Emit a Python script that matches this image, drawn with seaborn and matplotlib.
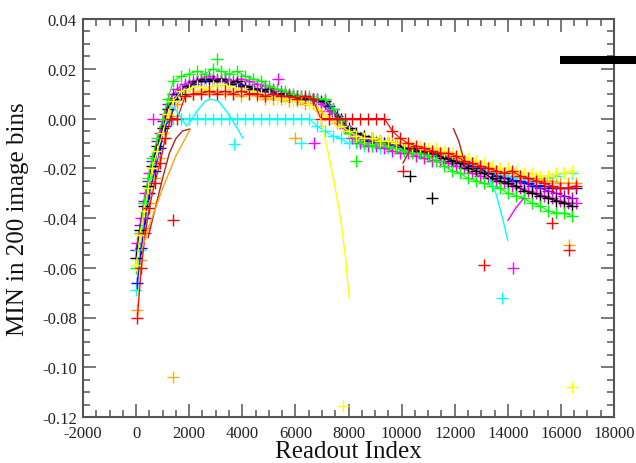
import numpy as np
import pandas as pd
import matplotlib
matplotlib.use("Agg")
import matplotlib.pyplot as plt
from matplotlib.lines import Line2D
from matplotlib.ticker import MultipleLocator
import seaborn as sns

# ---------------- data ----------------
x_a = [0, 150, 300, 450, 600, 800, 1000, 1200, 1400, 1700,
       2000, 2300, 2600, 2900, 3200, 3500, 3800, 4100, 4400, 4700,
       5000, 5300, 5600, 5900, 6200, 6500, 6800, 7100, 7400, 7700,
       8000, 8300, 8600, 8900, 9200, 9500, 9800, 10100, 10400, 10700,
       11000, 11300, 11600, 11900, 12200, 12500, 12800, 13100, 13400, 13700,
       14000, 14300, 14600, 14900, 15200, 15500, 15800, 16100, 16400]
x_b = [50, 200, 350, 500, 700, 900, 1100, 1300, 1550, 1850,
       2150, 2450, 2750, 3050, 3350, 3650, 3950, 4250, 4550, 4850,
       5150, 5450, 5750, 6050, 6350, 6650, 6950, 7250, 7550, 7850,
       8150, 8450, 8750, 9050, 9350, 9650, 9950, 10250, 10550, 10850,
       11150, 11450, 11750, 12050, 12350, 12650, 12950, 13250, 13550, 13850,
       14150, 14450, 14750, 15050, 15350, 15650, 15950, 16250, 16550]

black_y = [-0.056, -0.045, -0.035, -0.027, -0.019, -0.011, -0.004, 0.004, 0.008, 0.010,
           0.013, 0.015, 0.016, 0.015, 0.016, 0.014, 0.015, 0.013, 0.012, 0.011,
           0.012, 0.010, 0.010, 0.009, 0.008, 0.008, 0.008, 0.007, 0.004, 0.000,
           -0.004, -0.006, -0.007, -0.008, -0.009, -0.010, -0.010, -0.012, -0.012, -0.013,
           -0.014, -0.014, -0.016, -0.017, -0.018, -0.020, -0.021, -0.022, -0.024, -0.025,
           -0.026, -0.027, -0.029, -0.030, -0.031, -0.032, -0.033, -0.034, -0.035]
red_y = [-0.080, -0.060, -0.046, -0.036, -0.026, -0.018, -0.008, 0.000, 0.000, 0.009,
         0.010, 0.010, 0.011, 0.010, 0.011, 0.010, 0.011, 0.010, 0.010, 0.009,
         0.010, 0.009, 0.009, 0.008, 0.009, 0.008, 0.000, 0.000, 0.000, 0.000,
         0.000, 0.000, 0.000, 0.000, 0.000, -0.005, -0.008, -0.010, -0.011, -0.012,
         -0.013, -0.014, -0.014, -0.015, -0.017, -0.018, -0.019, -0.020, -0.021, -0.022,
         -0.021, -0.023, -0.024, -0.025, -0.026, -0.027, -0.028, -0.028, -0.027]
green_y = [-0.060, -0.046, -0.034, -0.024, -0.016, -0.008, 0.000, 0.008, 0.015, 0.017,
           0.018, 0.019, 0.018, 0.020, 0.019, 0.018, 0.019, 0.017, 0.016, 0.015,
           0.013, 0.012, 0.011, 0.010, 0.009, 0.009, 0.008, 0.008, 0.004, -0.001,
           -0.006, -0.009, -0.010, -0.011, -0.010, -0.011, -0.012, -0.013, -0.014, -0.014,
           -0.015, -0.017, -0.019, -0.021, -0.022, -0.024, -0.025, -0.026, -0.027, -0.028,
           -0.030, -0.031, -0.032, -0.034, -0.035, -0.037, -0.038, -0.038, -0.039]
blue_y = [-0.066, -0.052, -0.040, -0.030, -0.021, -0.012, -0.003, 0.000, 0.010, 0.013,
          0.014, 0.015, 0.016, 0.015, 0.016, 0.014, 0.013, 0.013, 0.012, 0.011,
          0.010, 0.010, 0.009, 0.009, 0.008, 0.008, 0.007, 0.005, 0.001, -0.003,
          -0.006, -0.008, -0.009, -0.010, -0.010, -0.011, -0.012, -0.012, -0.013, -0.014,
          -0.014, -0.015, -0.016, -0.017, -0.018, -0.019, -0.020, -0.022, -0.023, -0.024,
          -0.025, -0.025, -0.026, -0.027, -0.027, -0.028, -0.028, -0.028, -0.028]
yellow_y = [-0.059, -0.047, -0.037, -0.028, -0.020, -0.013, -0.006, 0.002, 0.007, 0.011,
            0.012, 0.013, 0.012, 0.013, 0.014, 0.013, 0.012, 0.011, 0.011, 0.010,
            0.009, 0.008, 0.008, 0.007, 0.007, 0.006, 0.004, 0.001, 0.000, -0.003,
            -0.005, -0.007, -0.008, -0.008, -0.009, -0.009, -0.010, -0.010, -0.011, -0.011,
            -0.012, -0.012, -0.013, -0.014, -0.015, -0.016, -0.017, -0.018, -0.019, -0.020,
            -0.020, -0.021, -0.022, -0.022, -0.023, -0.023, -0.022, -0.022, -0.021]
orange_y = [-0.077, -0.057, -0.044, -0.034, -0.024, -0.016, -0.008, 0.001, 0.006, 0.009,
            0.010, 0.011, 0.010, 0.011, 0.010, 0.010, 0.009, 0.010, 0.009, 0.008,
            0.008, 0.008, 0.007, 0.007, 0.006, 0.006, 0.003, 0.000, -0.002, -0.004,
            -0.006, -0.008, -0.009, -0.009, -0.010, -0.010, -0.011, -0.012, -0.012, -0.013,
            -0.013, -0.014, -0.015, -0.016, -0.017, -0.018, -0.019, -0.020, -0.021, -0.022,
            -0.022, -0.023, -0.024, -0.024, -0.025, -0.025, -0.026, -0.026, -0.026]
cyan_y = [-0.069, -0.053, -0.040, -0.030, -0.022, -0.014, -0.006, 0.000, 0.000, 0.000,
          0.000, 0.000, 0.000, 0.000, 0.000, 0.000, 0.000, 0.000, 0.000, 0.000,
          0.000, 0.000, 0.000, 0.000, 0.000, 0.000, -0.003, -0.005, -0.007, -0.008,
          -0.010, -0.010, -0.011, -0.011, -0.012, -0.012, -0.012, -0.013, -0.013, -0.014,
          -0.014, -0.015, -0.016, -0.017, -0.018, -0.019, -0.020, -0.021, -0.022, -0.023,
          -0.023, -0.024, -0.024, -0.025, -0.025, -0.024, -0.023, -0.022, -0.022]
magenta_y = [-0.050, -0.040, -0.030, -0.022, -0.015, -0.006, 0.002, 0.008, 0.012, 0.014,
             0.015, 0.016, 0.017, 0.016, 0.016, 0.015, 0.016, 0.015, 0.014, 0.013,
             0.012, 0.011, 0.010, 0.009, 0.008, 0.008, 0.006, 0.003, 0.000, -0.004,
             -0.008, -0.010, -0.011, -0.011, -0.012, -0.013, -0.014, -0.014, -0.015, -0.016,
             -0.017, -0.017, -0.018, -0.019, -0.020, -0.022, -0.023, -0.024, -0.025, -0.026,
             -0.027, -0.028, -0.029, -0.030, -0.031, -0.032, -0.033, -0.034, -0.034]
violet_y = [-0.053, -0.043, -0.033, -0.025, -0.017, -0.009, -0.001, 0.006, 0.010, 0.012,
            0.014, 0.015, 0.015, 0.016, 0.015, 0.015, 0.014, 0.013, 0.012, 0.012,
            0.011, 0.010, 0.010, 0.009, 0.009, 0.008, 0.007, 0.006, 0.002, -0.001,
            -0.005, -0.007, -0.008, -0.009, -0.010, -0.010, -0.011, -0.012, -0.013, -0.013,
            -0.014, -0.015, -0.016, -0.017, -0.018, -0.019, -0.020, -0.021, -0.022, -0.023,
            -0.024, -0.025, -0.026, -0.027, -0.028, -0.029, -0.030, -0.031, -0.032]

series_names = ["violet", "cyan", "orange", "blue", "magenta", "black", "green", "yellow", "red"]
series_colors = {"black": "#000000", "red": "#ff0000", "green": "#00ff00", "blue": "#0000ff",
                 "yellow": "#ffff00", "orange": "#ffa500", "cyan": "#00ffff",
                 "magenta": "#ff00ff", "violet": "#9400d3"}
series_x = {"black": x_a, "red": x_b, "green": x_a, "blue": x_b, "yellow": x_a,
            "orange": x_b, "cyan": x_a, "magenta": x_b, "violet": x_a}
series_y = {"black": black_y, "red": red_y, "green": green_y, "blue": blue_y,
            "yellow": yellow_y, "orange": orange_y, "cyan": cyan_y,
            "magenta": magenta_y, "violet": violet_y}

# isolated points
out_x = [1400, 1400, 7800, 16400, 13100, 14200, 13800, 16300, 16300, 11150,
         10300, 10050, 8300, 6700, 6200, 6000, 3700, 3050, 5350, 640, 15650]
out_y = [-0.041, -0.104, -0.1155, -0.108, -0.059, -0.060, -0.072, -0.053, -0.051, -0.032,
         -0.023, -0.021, -0.017, -0.010, -0.010, -0.008, -0.0103, 0.024, 0.016, 0.000, -0.042]
out_c = ["red", "gold", "yellow", "yellow", "red", "magenta", "cyan", "red", "orange", "black",
         "black", "red", "green", "magenta", "cyan", "orange", "cyan", "green", "magenta", "magenta", "red"]

# fitted curves
fit_yellow_x = [6950, 7200, 7450, 7700, 7900, 8020]
fit_yellow_y = [0.000, -0.012, -0.025, -0.040, -0.057, -0.072]
fit_cyan1_x = [1250, 1450, 1700, 1900, 2050, 2300, 2600, 2800, 3100, 3400, 3700, 4030]
fit_cyan1_y = [0.005, 0.004, 0.000, -0.003, -0.001, 0.003, 0.007, 0.0078, 0.007, 0.003, -0.002, -0.008]
fit_cyan2_x = [13300, 13550, 13800, 14000]
fit_cyan2_y = [-0.024, -0.030, -0.040, -0.049]
fit_magenta_x = [14000, 14300, 14600]
fit_magenta_y = [-0.041, -0.036, -0.032]
fit_maroon1_x = [450, 700, 1000, 1250, 1500, 1750, 2030]
fit_maroon1_y = [-0.048, -0.037, -0.024, -0.014, -0.008, -0.005, -0.0042]
fit_orange_x = [200, 500, 1000, 1500, 2030]
fit_orange_y = [-0.053, -0.043, -0.028, -0.015, -0.0045]
fit_maroon2_x = [10050, 10300, 10550]
fit_maroon2_y = [-0.018, -0.013, -0.011]
fit_maroon3_x = [11950, 12150, 12330]
fit_maroon3_y = [-0.004, -0.009, -0.016]

x_ticks = [-2000, 0, 2000, 4000, 6000, 8000, 10000, 12000, 14000, 16000, 18000]
y_ticks = [-0.12, -0.10, -0.08, -0.06, -0.04, -0.02, 0.00, 0.02, 0.04]

# ---------------- plot ----------------
sns.set_theme(style="white")
plt.rcParams["font.family"] = ["Liberation Serif", "DejaVu Serif"]
plt.rcParams["axes.unicode_minus"] = False

fig = plt.figure(figsize=(6.36, 4.64), dpi=100)
ax = fig.add_axes([83 / 636, 1 - 418 / 464, (614 - 83) / 636, (418 - 20) / 464])

for name in series_names:
    c = series_colors[name]
    df = pd.DataFrame({"x": series_x[name], "y": series_y[name]})
    sns.lineplot(data=df, x="x", y="y", ax=ax, color=c, linewidth=0.8,
                 marker="+", markersize=9, markeredgewidth=1.0, markeredgecolor=c,
                 estimator=None, sort=False, legend=False)

fits = [(fit_yellow_x, fit_yellow_y, "#ffff00"), (fit_cyan1_x, fit_cyan1_y, "#00ffff"),
        (fit_cyan2_x, fit_cyan2_y, "#00ffff"), (fit_magenta_x, fit_magenta_y, "#ff00ff"),
        (fit_maroon1_x, fit_maroon1_y, "#b22222"), (fit_orange_x, fit_orange_y, "#ffa500"),
        (fit_maroon2_x, fit_maroon2_y, "#b22222"), (fit_maroon3_x, fit_maroon3_y, "#b22222")]
for fx, fy, fc in fits:
    sns.lineplot(x=fx, y=fy, ax=ax, color=fc, linewidth=1.0, estimator=None,
                 sort=False, legend=False)

out_df = pd.DataFrame({"x": out_x, "y": out_y, "c": out_c})
pal = {"red": "#ff0000", "gold": "#ffb000", "yellow": "#ffff00", "magenta": "#ff00ff",
       "cyan": "#00ffff", "orange": "#ffa500", "black": "#000000", "green": "#00ff00"}
for cname, g in out_df.groupby("c"):
    sns.lineplot(data=g, x="x", y="y", ax=ax, color=pal[cname], linestyle="none",
                 marker="+", markersize=9, markeredgewidth=1.0, markeredgecolor=pal[cname],
                 estimator=None, sort=False, legend=False)

ax.set_xlim(-2000, 18000)
ax.set_ylim(-0.12, 0.04)
ax.set_xticks(x_ticks)
ax.set_yticks(y_ticks)
ax.set_xticklabels([str(v) for v in x_ticks])
ax.set_yticklabels([f"{v:.2f}" for v in y_ticks])
ax.xaxis.set_minor_locator(MultipleLocator(500))
ax.yaxis.set_minor_locator(MultipleLocator(0.005))
spine_c = "#555555"
for s in ax.spines.values():
    s.set_color(spine_c)
    s.set_linewidth(1.5)
ax.tick_params(which="both", direction="in", top=True, right=True, bottom=True, left=True,
               color=spine_c, width=1.1, labelsize=12, labelcolor="#222222")
ax.tick_params(which="major", length=9.5)
ax.tick_params(which="minor", length=5)
ax.tick_params(axis="x", which="major", pad=6)
ax.tick_params(axis="y", which="major", pad=4.5)
ax.set_xlabel("Readout Index", fontsize=18, labelpad=-1, color="#111111")
ax.set_ylabel("MIN in 200 image bins", fontsize=18, labelpad=9, color="#111111")
ax.grid(False)

fig.add_artist(Line2D([560 / 636, 1.0], [1 - 61 / 464, 1 - 61 / 464],
                      transform=fig.transFigure, color="black", linewidth=5.8,
                      solid_capstyle="butt"))

fig.savefig("out.png", dpi=100)
